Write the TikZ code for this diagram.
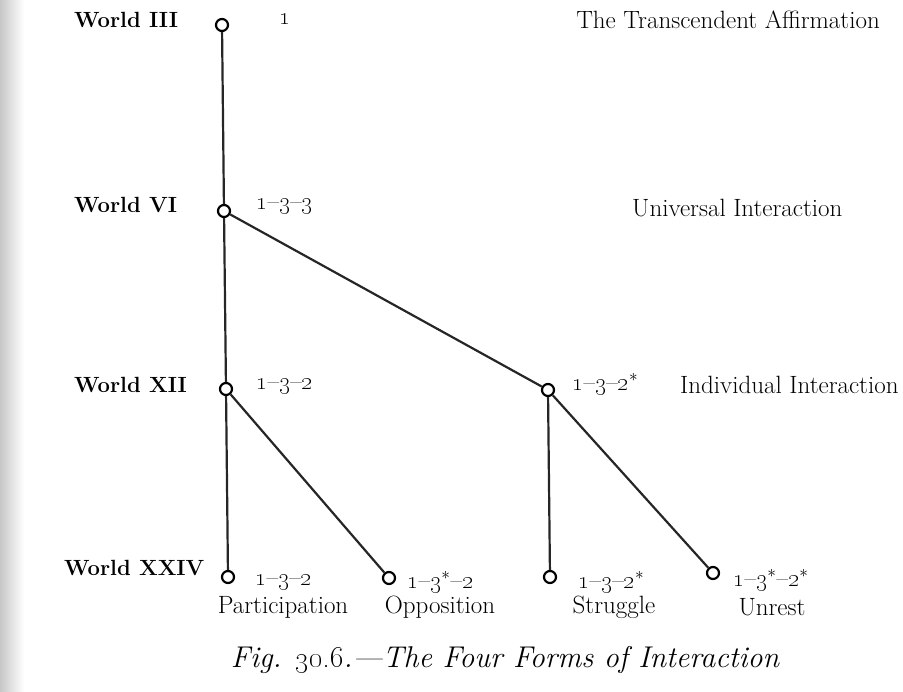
\documentclass[tikz,border=0pt]{standalone}
\usetikzlibrary{positioning}
\tikzset{
  world/.style = {draw, line width=2.2pt, circle, inner sep=0pt,
                  minimum size=12pt, fill=white},
  link/.style  = {line width=2.2pt, black!85},
  lvl/.style   = {anchor=west, inner sep=0pt,
                  font=\fontsize{22}{26}\selectfont\bfseries},
  tag/.style   = {inner sep=0pt, font=\fontsize{25}{30}\selectfont},
  code/.style  = {anchor=west, inner sep=0pt,
                  font=\fontsize{25}{30}\selectfont},
}
\newcommand{\osn}[1]{\oldstylenums{#1}}
\newcommand{\st}{$^{\ast}$}

\begin{document}
\begin{tikzpicture}[x=1pt, y=-1pt]
\useasboundingbox (0,0) rectangle (903,692);
\fill[left color=black!22, right color=white] (0,0) rectangle (24,692);
% worlds
\node[world] (w3)  at (222,25)  {};
\node[world] (w6)  at (224,211) {};
\node[world] (w12) at (226,389) {};
\node[world] (ind) at (548,390) {};
\node[world] (par) at (228,577) {};
\node[world] (opp) at (389,578) {};
\node[world] (str) at (550,577) {};
\node[world] (unr) at (713,573) {};
% level names
\node[lvl] (l3)  at (74,20)  {World III};
\node[lvl] (l6)  at (74,205) {World VI};
\node[lvl] (l12) at (74,385) {World XII};
\node[lvl] (l24) at (64,568) {World XXIV};
% codes
\node[code] (c3)  at (279,19)  {\osn{1}};
\node[code] (c6)  at (256,207) {\osn{1}--\osn{3}--\osn{3}};
\node[code] (c12) at (256,387) {\osn{1}--\osn{3}--\osn{2}};
\node[code] (ci)  at (572,384) {\osn{1}--\osn{3}--\osn{2}\st};
\node[code] (cp)  at (255,583) {\osn{1}--\osn{3}--\osn{2}};
\node[code] (co)  at (407,582) {\osn{1}--\osn{3}\st--\osn{2}};
\node[code] (cs)  at (578,582) {\osn{1}--\osn{3}--\osn{2}\st};
\node[code] (cu)  at (733,580) {\osn{1}--\osn{3}\st--\osn{2}\st};
% names
\node[tag, anchor=east] (t3) at (880,20)  {The Transcendent Affirmation};
\node[tag, anchor=west] (t6) at (632,208) {Universal Interaction};
\node[tag, anchor=west] (ti) at (680,385) {Individual Interaction};
\node[tag] (tp) at (283,607) {Participation};
\node[tag] (to) at (440,607) {Opposition};
\node[tag] (ts) at (614,607) {Struggle};
\node[tag] (tu) at (772,607) {Unrest};
% caption
\node[tag, font=\fontsize{30}{36}\selectfont\itshape] (cap) at (505,660)
  {Fig. \osn{30.6}.---The Four Forms of Interaction};
% links
\draw[link] (w3) -- (w6);
\draw[link] (w6) -- (w12);
\draw[link] (w6) -- (ind);
\draw[link] (w12) -- (par);
\draw[link] (w12) -- (opp);
\draw[link] (ind) -- (str);
\draw[link] (ind) -- (unr);
\end{tikzpicture}
\end{document}
